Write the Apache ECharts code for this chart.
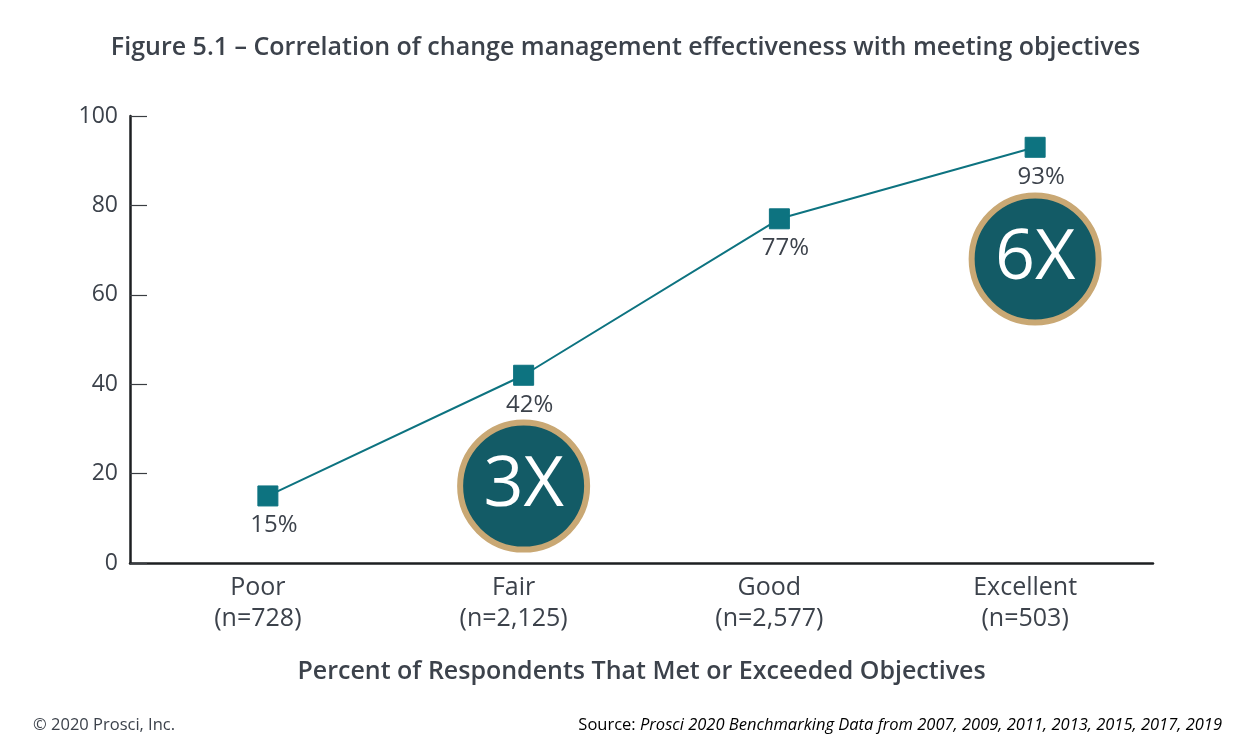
<!DOCTYPE html>
<html><head><meta charset="utf-8">
<script src="https://cdn.jsdelivr.net/npm/echarts@6/dist/echarts.min.js"></script>
<style>html,body{margin:0;padding:0;background:#fff}#c{width:1251px;height:751px}</style>
</head><body><div id="c"></div>
<script>
const categories = ['Poor', 'Fair', 'Good', 'Excellent'];
const counts = ['n=728', 'n=2,125', 'n=2,577', 'n=503'];
const percentMet = [15, 42, 77, 93];
const yTicks = [0, 20, 40, 60, 80, 100];
const badgeCategories = ['Fair', 'Excellent'];
const badgeY = [17.2, 68];
const badgeText = ['3X', '6X'];

const FONT = '"Open Sans", "Noto Sans", sans-serif';
const TXT = '#3c424b';
const chart = echarts.init(document.getElementById('c'), null, {renderer: 'canvas'});
chart.setOption({
  animation: false,
  title: {
    text: 'Figure 5.1 – Correlation of change management effectiveness with meeting objectives',
    left: 'center', top: 30,
    textStyle: {fontFamily: FONT, fontSize: 25, fontWeight: 600, color: TXT}
  },
  graphic: [
    {type: 'text', left: 33, top: 717, style: {text: '© 2020 Prosci, Inc.', font: '16.5px ' + FONT, fill: TXT}},
    {type: 'text', right: 29, top: 717, style: {
      text: '{a|Source: }{b|Prosci 2020 Benchmarking Data from 2007, 2009, 2011, 2013, 2015, 2017, 2019}',
      rich: {a: {fontFamily: FONT, fontSize: 16.5, color: TXT}, b: {fontFamily: FONT, fontSize: 16.5, fontStyle: 'italic', color: TXT}}
    }}
  ],
  grid: [
    {left: 130, right: 98, top: 116, bottom: 188},
    {left: 140, right: 88, top: 116, bottom: 188}
  ],
  xAxis: [
    {
      type: 'category', gridIndex: 0, data: categories,
      boundaryGap: true,
      axisLine: {lineStyle: {color: '#1d1f22', width: 2.5}},
      axisTick: {inside: true, length: 11, lineStyle: {color: '#3a3d42', width: 1}},
      axisLabel: {
        margin: 9, lineHeight: 31,
        fontFamily: FONT, fontSize: 25, fontWeight: 500, color: TXT,
        formatter: (v, i) => v + '\n(' + counts[i] + ')'
      },
      name: 'Percent of Respondents That Met or Exceeded Objectives',
      nameLocation: 'middle', nameGap: 96,
      nameTextStyle: {fontFamily: FONT, fontSize: 25, fontWeight: 600, color: TXT}
    },
    {type: 'category', gridIndex: 1, data: categories, show: false}
  ],
  yAxis: [
    {
      type: 'value', gridIndex: 0, min: 0, max: 100, interval: 20,
      axisLine: {show: true, lineStyle: {color: '#1d1f22', width: 2.5}},
      axisTick: {show: true, inside: true, length: 17, lineStyle: {color: '#3a3d42', width: 1.2}},
      axisLabel: {margin: 12, fontFamily: FONT, fontSize: 23, fontWeight: 500, color: TXT,
        formatter: v => yTicks.includes(v) ? String(v) : ''},
      splitLine: {show: false}
    },
    {type: 'value', gridIndex: 1, min: 0, max: 100, interval: 20, show: false, splitLine: {show: false}}
  ],
  series: [
    {
      type: 'scatter', xAxisIndex: 1, yAxisIndex: 1,
      data: badgeCategories.map((c, i) => [c, badgeY[i]]),
      symbol: 'circle', symbolSize: 127,
      itemStyle: {color: '#135b66', borderColor: '#c9a874', borderWidth: 6, opacity: 1},
      label: {show: true, position: 'inside', formatter: p => badgeText[p.dataIndex],
        fontFamily: FONT, fontSize: 70, color: '#ffffff'},
      z: 1, silent: true
    },
    {
      type: 'line', xAxisIndex: 1, yAxisIndex: 1,
      data: percentMet,
      symbol: 'rect', symbolSize: 20,
      lineStyle: {color: '#0d7380', width: 2},
      itemStyle: {color: '#0d7380', borderColor: '#0d7380'},
      label: {show: true, position: 'bottom', distance: 7, offset: [6, 0], formatter: p => p.value + '%',
        fontFamily: FONT, fontSize: 24, fontWeight: 500, color: TXT},
      z: 3
    }
  ]
});
</script></body></html>
